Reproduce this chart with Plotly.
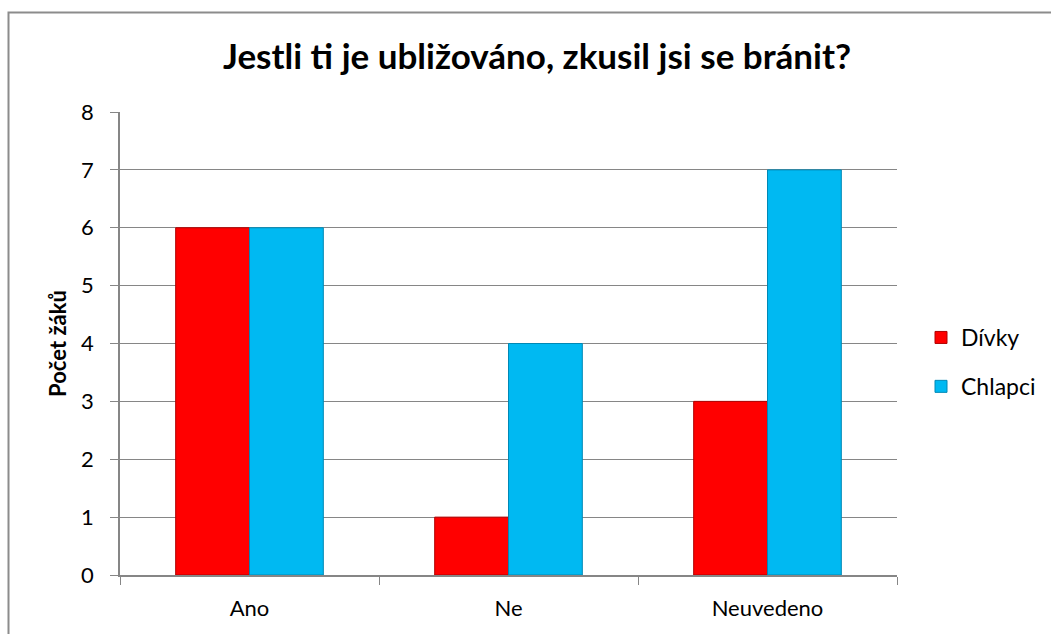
import plotly.graph_objects as go

categories = ["Ano", "Ne", "Neuvedeno"]
divky = [6, 1, 3]
chlapci = [6, 4, 7]
y_ticks = [0, 1, 2, 3, 4, 5, 6, 7, 8]

FONT = "Lato"
L, R, T, B = 120, 154, 112, 59
W, H = 1051, 634
pw, ph = W - L - R, H - T - B

fig = go.Figure()
fig.add_trace(go.Bar(
    x=categories, y=divky, name="Dívky", legendgroup="d",
    marker=dict(color="#FF0000", line=dict(color="#B00000", width=1)),
))
fig.add_trace(go.Bar(
    x=categories, y=chlapci, name="Chlapci", legendgroup="c",
    marker=dict(color="#00B9F2", line=dict(color="#0088B5", width=1)),
))

def px_x(p):
    return (p - L) / pw

def px_y(p):
    return (H - B - p) / ph

fig.update_layout(
    width=W, height=H,
    margin=dict(l=L, r=R, t=T, b=B, autoexpand=False),
    paper_bgcolor="white", plot_bgcolor="white",
    barmode="group", bargap=0.43, bargroupgap=0,
    font=dict(family=FONT, size=22, color="black"),
    title=dict(
        text="<b>Jestli ti je ubližováno, zkusil jsi se bránit?</b>",
        font=dict(family=FONT, size=35, color="black"),
        x=px_x(537), xref="paper", xanchor="center",
        y=1 - 57 / H, yref="container", yanchor="middle",
    ),
    xaxis=dict(
        type="category", tickson="boundaries", ticks="outside", ticklen=8,
        tickcolor="#868686", showline=True, linecolor="#868686", linewidth=1.5,
        showgrid=False, tickfont=dict(family=FONT, size=22),
        ticklabelstandoff=13,
    ),
    yaxis=dict(
        range=[0, 8], tickvals=y_ticks, ticks="outside", ticklen=8,
        tickcolor="#868686", showline=True, linecolor="#868686", linewidth=1.5,
        showgrid=True, gridcolor="#868686", gridwidth=1, zeroline=False,
        tickfont=dict(family=FONT, size=22), ticklabelstandoff=12,
        title=dict(text="<b>Počet žáků</b>", font=dict(family=FONT, size=22), standoff=8),
    ),
    legend=dict(
        x=px_x(921), y=px_y(362), xanchor="left", yanchor="middle",
        font=dict(family=FONT, size=23), itemwidth=30, tracegroupgap=16,
        bgcolor="rgba(0,0,0,0)",
    ),
    shapes=[dict(
        type="rect", xref="paper", yref="paper", layer="below",
        x0=px_x(8.5), x1=px_x(1060), y0=px_y(660), y1=px_y(12.5),
        line=dict(color="#8C8C8C", width=2), fillcolor="rgba(0,0,0,0)",
    )],
)

fig.write_html("out.html", config={"displayModeBar": False},
               post_script="document.body.style.margin='0';")
